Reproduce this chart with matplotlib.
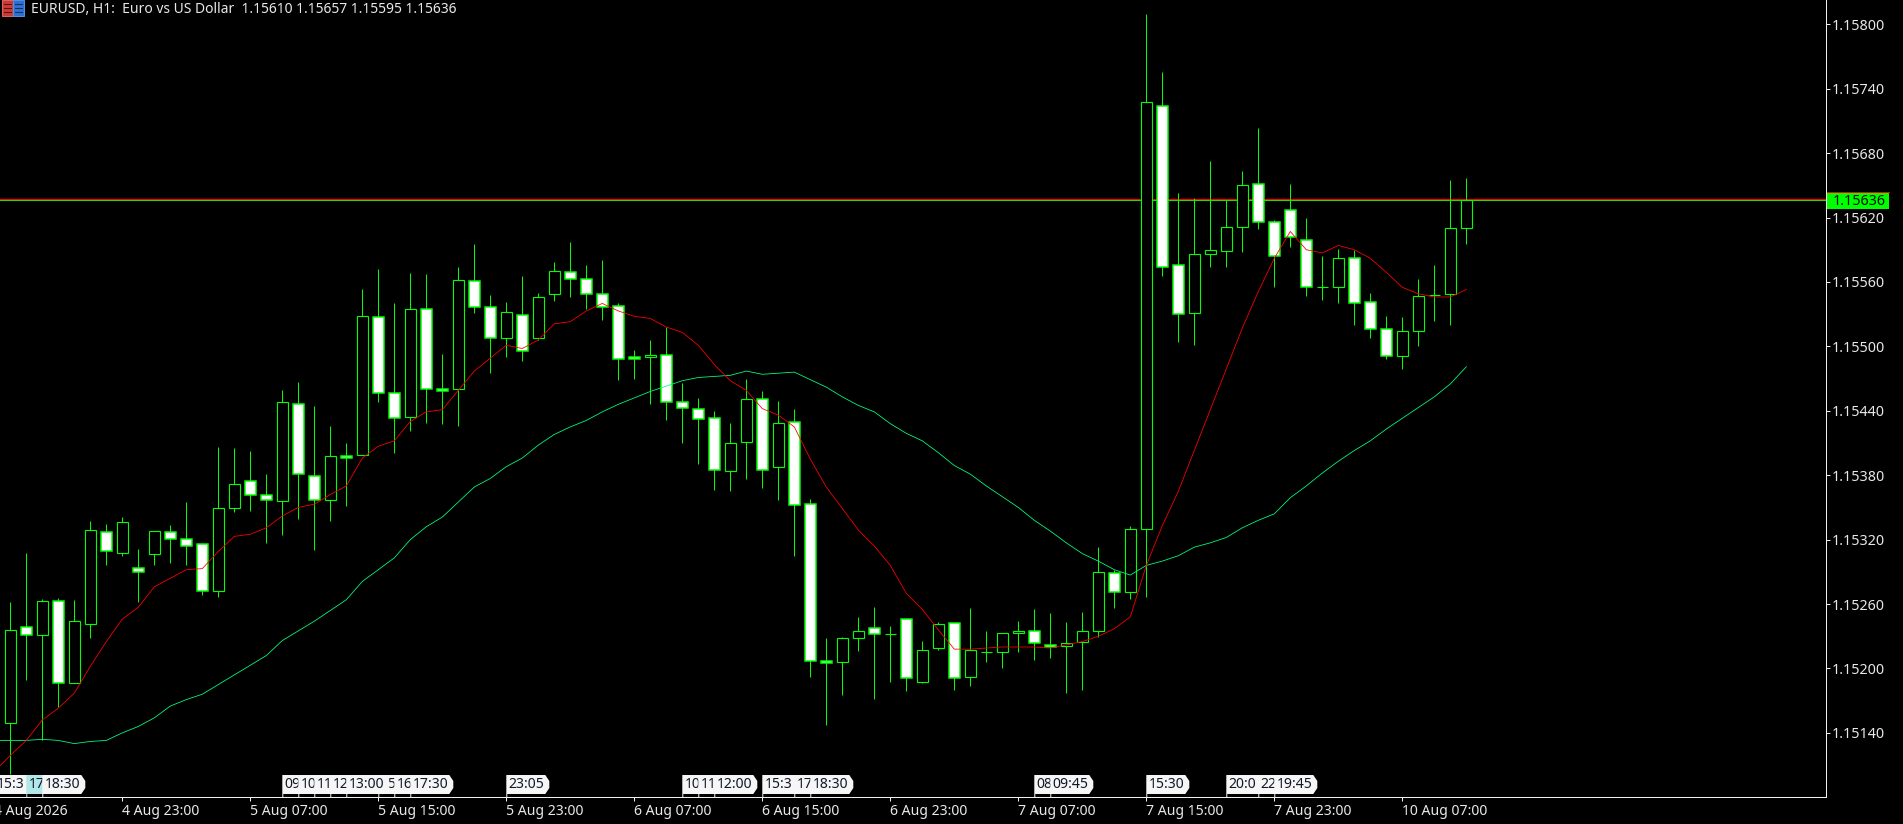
import numpy as np
import matplotlib
matplotlib.use("Agg")
import matplotlib.pyplot as plt
from matplotlib.patches import Polygon, Rectangle
from matplotlib.transforms import blended_transform_factory

opens = [1.15149, 1.15239, 1.15231, 1.15263, 1.15186, 1.15241, 1.15327, 1.15308, 1.15294, 1.15307,
         1.15327, 1.15321, 1.15316, 1.15272, 1.15349, 1.15375, 1.15362, 1.15356, 1.15446, 1.15379,
         1.15357, 1.15398, 1.15399, 1.15527, 1.15457, 1.15434, 1.15535, 1.15460, 1.15460, 1.15561,
         1.15537, 1.15508, 1.15529, 1.15508, 1.15549, 1.15569, 1.15563, 1.15549, 1.15538, 1.15490,
         1.15490, 1.15492, 1.15448, 1.15442, 1.15433, 1.15384, 1.15411, 1.15451, 1.15388, 1.15430,
         1.15353, 1.15207, 1.15206, 1.15228, 1.15238, 1.15232, 1.15246, 1.15187, 1.15219, 1.15242,
         1.15192, 1.15215, 1.15215, 1.15233, 1.15235, 1.15222, 1.15221, 1.15225, 1.15235, 1.15289,
         1.15271, 1.15330, 1.15724, 1.15576, 1.15531, 1.15586, 1.15589, 1.15611, 1.15651, 1.15616,
         1.15627, 1.15599, 1.15555, 1.15555, 1.15582, 1.15541, 1.15516, 1.15491, 1.15514, 1.15548,
         1.15549, 1.15610]
highs = [1.15262, 1.15308, 1.15265, 1.15266, 1.15264, 1.15337, 1.15335, 1.15341, 1.15311, 1.15328,
         1.15334, 1.15355, 1.15317, 1.15406, 1.15405, 1.15403, 1.15381, 1.15459, 1.15467, 1.15444,
         1.15426, 1.15410, 1.15553, 1.15572, 1.15540, 1.15568, 1.15567, 1.15493, 1.15574, 1.15595,
         1.15548, 1.15541, 1.15566, 1.15550, 1.15579, 1.15597, 1.15576, 1.15580, 1.15540, 1.15497,
         1.15506, 1.15518, 1.15466, 1.15452, 1.15440, 1.15429, 1.15470, 1.15458, 1.15449, 1.15442,
         1.15358, 1.15228, 1.15229, 1.15248, 1.15257, 1.15240, 1.15246, 1.15226, 1.15243, 1.15242,
         1.15256, 1.15235, 1.15233, 1.15244, 1.15255, 1.15252, 1.15243, 1.15253, 1.15313, 1.15292,
         1.15333, 1.15810, 1.15756, 1.15643, 1.15638, 1.15673, 1.15636, 1.15663, 1.15703, 1.15618,
         1.15651, 1.15620, 1.15584, 1.15591, 1.15590, 1.15550, 1.15528, 1.15527, 1.15563, 1.15576,
         1.15655, 1.15657]
lows = [1.15102, 1.15189, 1.15133, 1.15164, 1.15186, 1.15228, 1.15296, 1.15305, 1.15262, 1.15296,
        1.15298, 1.15296, 1.15268, 1.15267, 1.15346, 1.15347, 1.15317, 1.15324, 1.15339, 1.15310,
        1.15337, 1.15351, 1.15399, 1.15448, 1.15401, 1.15421, 1.15429, 1.15428, 1.15426, 1.15531,
        1.15475, 1.15490, 1.15486, 1.15506, 1.15542, 1.15546, 1.15535, 1.15525, 1.15469, 1.15470,
        1.15446, 1.15431, 1.15410, 1.15390, 1.15366, 1.15365, 1.15376, 1.15368, 1.15357, 1.15305,
        1.15192, 1.15147, 1.15175, 1.15216, 1.15172, 1.15187, 1.15179, 1.15186, 1.15217, 1.15180,
        1.15184, 1.15206, 1.15200, 1.15215, 1.15208, 1.15210, 1.15177, 1.15180, 1.15229, 1.15256,
        1.15265, 1.15267, 1.15566, 1.15504, 1.15501, 1.15574, 1.15574, 1.15588, 1.15609, 1.15555,
        1.15593, 1.15547, 1.15543, 1.15540, 1.15520, 1.15508, 1.15488, 1.15479, 1.15500, 1.15524,
        1.15520, 1.15595]
closes = [1.15236, 1.15231, 1.15263, 1.15186, 1.15244, 1.15329, 1.15309, 1.15336, 1.15290, 1.15328,
          1.15321, 1.15314, 1.15272, 1.15349, 1.15372, 1.15362, 1.15357, 1.15448, 1.15381, 1.15357,
          1.15398, 1.15396, 1.15528, 1.15457, 1.15433, 1.15535, 1.15460, 1.15458, 1.15562, 1.15537,
          1.15508, 1.15532, 1.15496, 1.15546, 1.15570, 1.15563, 1.15549, 1.15537, 1.15488, 1.15488,
          1.15492, 1.15448, 1.15443, 1.15432, 1.15385, 1.15410, 1.15451, 1.15385, 1.15429, 1.15352,
          1.15207, 1.15205, 1.15228, 1.15235, 1.15232, 1.15232, 1.15191, 1.15217, 1.15241, 1.15191,
          1.15217, 1.15215, 1.15233, 1.15235, 1.15224, 1.15220, 1.15224, 1.15235, 1.15290, 1.15271,
          1.15330, 1.15728, 1.15574, 1.15530, 1.15586, 1.15590, 1.15611, 1.15650, 1.15616, 1.15584,
          1.15602, 1.15555, 1.15555, 1.15582, 1.15540, 1.15516, 1.15491, 1.15514, 1.15547, 1.15548,
          1.15610, 1.15636]

# moving averages, first value belongs to the bar just left of the screen
ma_fast = [1.15104, 1.15119, 1.15133, 1.15152, 1.15163, 1.15177, 1.15202, 1.15225, 1.15246, 1.15257,
           1.15276, 1.15284, 1.15292, 1.15293, 1.15309, 1.15323, 1.15325, 1.15331, 1.15342, 1.15350,
           1.15353, 1.15362, 1.15370, 1.15396, 1.15407, 1.15412, 1.15430, 1.15439, 1.15441, 1.15459,
           1.15477, 1.15489, 1.15501, 1.15498, 1.15506, 1.15521, 1.15523, 1.15533, 1.15540, 1.15533,
           1.15528, 1.15526, 1.15518, 1.15513, 1.15501, 1.15483, 1.15468, 1.15459, 1.15442, 1.15436,
           1.15425, 1.15395, 1.15369, 1.15349, 1.15329, 1.15314, 1.15296, 1.15270, 1.15255, 1.15236,
           1.15218, 1.15218, 1.15219, 1.15220, 1.15220, 1.15220, 1.15219, 1.15222, 1.15225, 1.15230,
           1.15237, 1.15248, 1.15296, 1.15333, 1.15365, 1.15403, 1.15441, 1.15479, 1.15517, 1.15551,
           1.15582, 1.15607, 1.15590, 1.15587, 1.15594, 1.15590, 1.15582, 1.15569, 1.15555, 1.15549,
           1.15546, 1.15546, 1.15553]
ma_slow = [1.15133, 1.15133, 1.15133, 1.15134, 1.15133, 1.15130, 1.15132, 1.15133, 1.15140, 1.15146,
           1.15154, 1.15165, 1.15171, 1.15176, 1.15185, 1.15194, 1.15203, 1.15212, 1.15226, 1.15235,
           1.15244, 1.15254, 1.15264, 1.15281, 1.15292, 1.15303, 1.15320, 1.15332, 1.15341, 1.15355,
           1.15369, 1.15377, 1.15388, 1.15396, 1.15408, 1.15418, 1.15425, 1.15431, 1.15439, 1.15446,
           1.15452, 1.15458, 1.15463, 1.15468, 1.15471, 1.15472, 1.15473, 1.15477, 1.15474, 1.15475,
           1.15476, 1.15469, 1.15462, 1.15453, 1.15445, 1.15439, 1.15428, 1.15419, 1.15412, 1.15401,
           1.15389, 1.15381, 1.15370, 1.15360, 1.15350, 1.15338, 1.15328, 1.15317, 1.15307, 1.15300,
           1.15292, 1.15287, 1.15296, 1.15300, 1.15305, 1.15313, 1.15317, 1.15322, 1.15331, 1.15338,
           1.15344, 1.15359, 1.15370, 1.15382, 1.15393, 1.15403, 1.15412, 1.15423, 1.15433, 1.15443,
           1.15453, 1.15465, 1.15481]

bid = 1.15636
ask = 1.15637

price_ticks = [1.15800, 1.15740, 1.15680, 1.15620, 1.15560, 1.15500, 1.15440, 1.15380, 1.15320,
               1.15260, 1.15200, 1.15140]
time_tick_bars = [7, 15, 23, 31, 39, 47, 55, 63, 71, 79, 87]
time_tick_labels = ["4 Aug 23:00", "5 Aug 07:00", "5 Aug 15:00", "5 Aug 23:00", "6 Aug 07:00",
                    "6 Aug 15:00", "6 Aug 23:00", "7 Aug 07:00", "7 Aug 15:00", "7 Aug 23:00",
                    "10 Aug 07:00"]
first_date_bar = -1
first_date_label = "4 Aug 2026"

# calendar flags along the time axis, in the order they get painted
# the ones covered by a later flag only keep the part you can read
event_bars = [-1, 1, 2, 17, 18, 19, 20, 23, 21, 24, 25, 31, 42, 43, 44, 47, 49, 50, 64, 65, 71, 76, 78, 79]
event_labels = ["15:3", "17", "18:30", "09", "10", "11", "12", "15", "13:00", "16",
                "17:30", "23:05", "10", "11", "12:00", "15:3", "17", "18:30", "08", "09:45",
                "15:30", "20:0", "22", "19:45"]
highlighted_flag = 1

title = "EURUSD, H1:  Euro vs US Dollar  1.15610 1.15657 1.15595 1.15636"

W, H = 1903, 824
GREEN = "#00ff00"
FONT = "Noto Sans"
FS = 10.1
PX = 72 / 100  # one pixel in points

fig = plt.figure(figsize=(W / 100, H / 100), dpi=100, facecolor="black")
ax = fig.add_axes([0, (H - 797.3) / H, 1825.5 / W, 797.3 / H], facecolor="black")
ax.set_xlim(-0.644, 113.45)
ax.set_ylim(1.15080, 1.158226)

bars = np.arange(len(opens))
o = np.array(opens)
c = np.array(closes)
up = c >= o

ax.axhline(bid, color=GREEN, lw=PX, zorder=1)
ax.axhline(ask, color="#ff0000", lw=PX * 1.25, zorder=1)

ax.vlines(bars, lows, highs, color=GREEN, lw=PX, zorder=2, snap=True)
ax.bar(bars[up], (c - o)[up], bottom=o[up], width=0.66, facecolor="black",
       edgecolor=GREEN, linewidth=PX * 1.1, zorder=3)
ax.bar(bars[~up], (c - o)[~up], bottom=o[~up], width=0.66, facecolor="white",
       edgecolor=GREEN, linewidth=PX * 1.5, zorder=3)

ma_bars = np.arange(-1, len(opens))
ax.plot(ma_bars, ma_slow, color="#00ff7f", lw=PX * 0.8, zorder=4)
ax.plot(ma_bars, ma_fast, color="#ff0000", lw=PX * 0.8, zorder=5)

for side in ["top", "left"]:
    ax.spines[side].set_visible(False)
for side in ["right", "bottom"]:
    ax.spines[side].set_color("#f0f0f0")
    ax.spines[side].set_linewidth(PX)

ax.yaxis.tick_right()
ax.set_yticks(price_ticks)
ax.set_yticklabels(["%.5f" % p for p in price_ticks], fontfamily=FONT, fontsize=10.3, color="#e8e8e8")
ax.tick_params(axis="y", length=3, width=PX, color="#f0f0f0", pad=1.5)
ax.set_xticks(time_tick_bars)
ax.set_xticklabels(time_tick_labels, fontfamily=FONT, fontsize=FS, color="#e8e8e8", ha="left")
ax.tick_params(axis="x", length=3, width=PX, color="#f0f0f0", pad=2)

# first date sits on a bar left of the screen, so no tick for it
ax.text(first_date_bar, -0.0085, first_date_label, transform=blended_transform_factory(ax.transData, ax.transAxes),
        fontfamily=FONT, fontsize=FS, color="#e8e8e8", ha="left", va="top", clip_on=False)

# overlay in screen pixels for the flags, price tag and title
ov = fig.add_axes([0, 0, 1, 1], facecolor="none")
ov.set_xlim(0, W)
ov.set_ylim(H, 0)
ov.axis("off")


def bar_x(bar):
    return ax.transData.transform((bar, 0))[0]


def price_y(price):
    return H - ax.transData.transform((0, price))[1]


for k, (bar, label) in enumerate(zip(event_bars, event_labels)):
    x = bar_x(bar)
    fill = "#b0e8e8" if bar == highlighted_flag else "#f6f6f6"
    shape = [(x, 775), (x + 39, 775), (x + 43, 781), (x + 43, 788), (x + 39, 794), (x + 1, 794),
             (x + 1, 797), (x, 797)]
    ov.add_patch(Polygon(shape, closed=True, facecolor=fill, edgecolor="none", zorder=10 + 2 * k))
    ov.text(x + 2.5, 785, label, fontfamily=FONT, fontsize=FS, color="#10182a", ha="left",
            va="center", zorder=11 + 2 * k)

tag_y = price_y(bid)
ov.add_patch(Rectangle((1827, tag_y - 8), 62, 17, facecolor=GREEN, edgecolor="none", zorder=60))
ov.plot([1827, 1889], [tag_y - 8, tag_y - 8], color="#ff0000", lw=PX, zorder=61)
ov.text(1832.5, tag_y + 1, "%.5f" % bid, fontfamily=FONT, fontsize=10.3, color="#001000", ha="left",
        va="center", zorder=62)

# terminal icon, red half and blue half with bars
ov.add_patch(Rectangle((1.5, 0), 11, 16, facecolor="#c83a36", edgecolor="#e06060", lw=PX, zorder=60))
ov.add_patch(Rectangle((12.5, 0), 11, 16, facecolor="#2f6fd0", edgecolor="#5090e0", lw=PX, zorder=60))
for row in [4, 8, 12]:
    ov.plot([3.5, 10.5], [row, row], color="#5a1010", lw=PX, zorder=61)
    ov.plot([14.5, 21.5], [row, row], color="#103060", lw=PX, zorder=61)

ov.text(31, 9, title, fontfamily=FONT, fontsize=10.0, color="#e8e8e8", ha="left", va="center", zorder=60)

fig.savefig("out.png", dpi=100, facecolor="black")
